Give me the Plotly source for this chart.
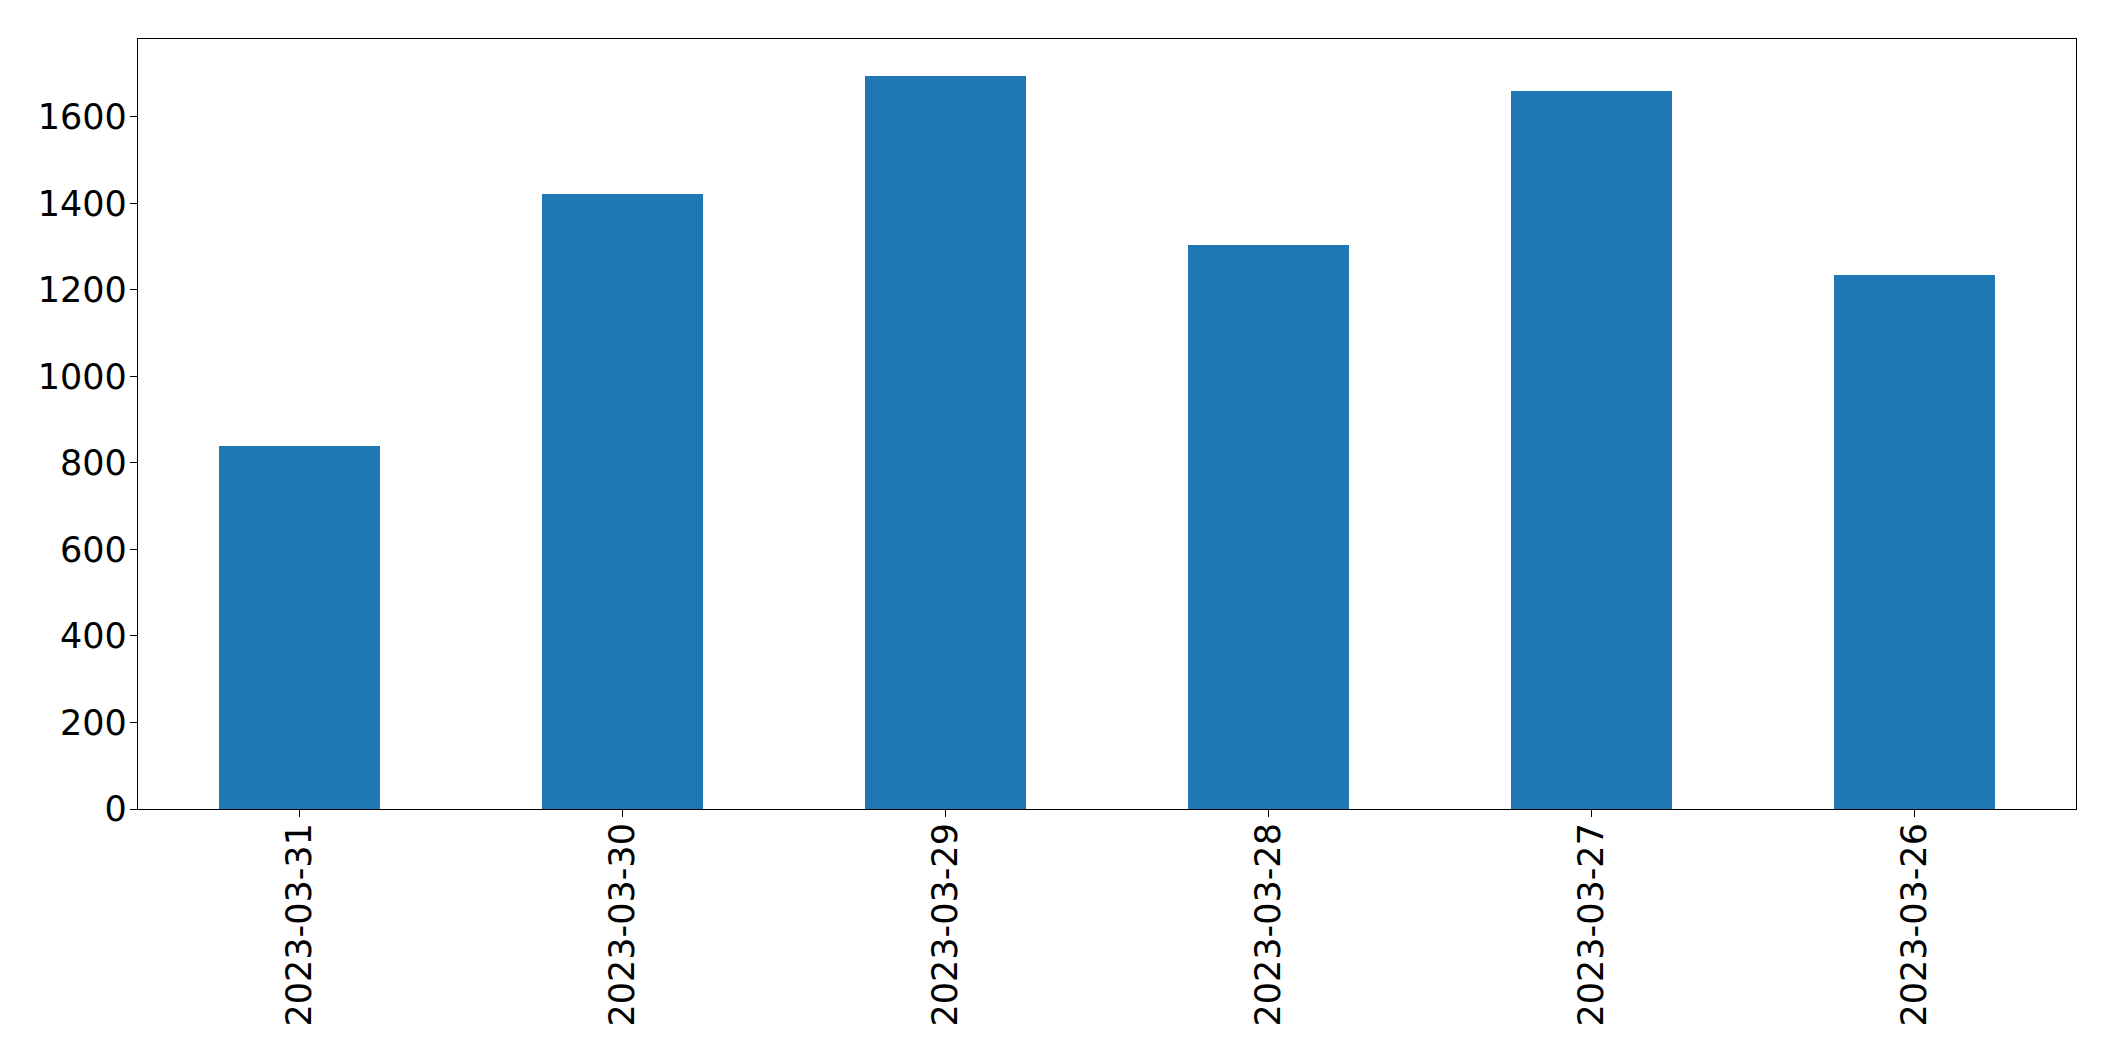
import plotly.graph_objects as go

dates = ["2023-03-31", "2023-03-30", "2023-03-29", "2023-03-28", "2023-03-27", "2023-03-26"]
values = [840, 1422, 1695, 1304, 1660, 1235]
y_ticks = [0, 200, 400, 600, 800, 1000, 1200, 1400, 1600]

fig = go.Figure()
fig.add_trace(go.Bar(x=dates, y=values, width=0.5, marker=dict(color="#1f77b4", line=dict(width=0))))

fig.update_layout(
    width=2099, height=1045,
    margin=dict(l=130, r=31, t=31, b=244, autoexpand=False),
    paper_bgcolor="white", plot_bgcolor="white",
    font=dict(family="DejaVu Sans", size=35, color="black"),
    showlegend=False,
    bargap=0,
)
fig.update_xaxes(
    type="category", range=[-0.5, 5.5],
    showline=True, linecolor="black", linewidth=1.2, mirror=True,
    ticks="outside", ticklen=7, tickwidth=1.2, tickcolor="black",
    tickangle=-90, showgrid=False, zeroline=False, ticklabelstandoff=-8,
)
fig.update_yaxes(
    range=[0, 1780], tickvals=y_ticks,
    showline=True, linecolor="black", linewidth=1.2, mirror=True,
    ticks="outside", ticklen=7, tickwidth=1.2, tickcolor="black",
    showgrid=False, zeroline=False, ticklabelstandoff=-4,
)

fig.write_html("out.html")
